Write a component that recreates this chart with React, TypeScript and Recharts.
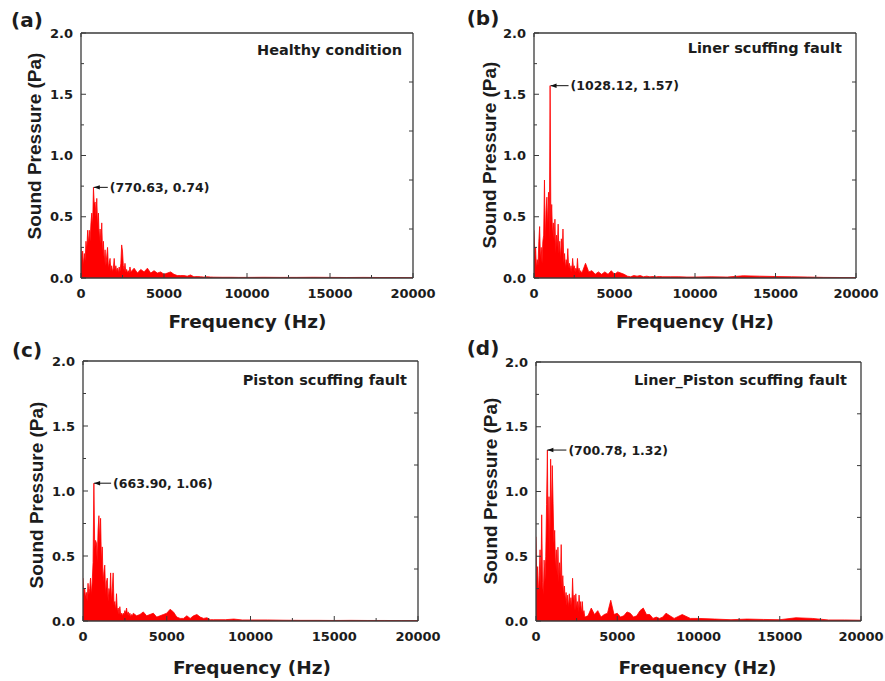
import React from 'react';
import { AreaChart, Area, XAxis, YAxis, ReferenceDot } from 'recharts';

// ---------- data ----------
const FREQ = [
  0, 50, 100, 150, 200, 250, 300, 350, 400, 450, 500, 550, 600, 650, 700, 750, 800, 850, 900, 950,
  1000, 1050, 1100, 1150, 1200, 1250, 1300, 1350, 1400, 1450, 1500, 1550, 1600, 1650, 1700, 1750, 1800, 1850, 1900, 1950,
  2000, 2050, 2100, 2150, 2200, 2250, 2300, 2350, 2400, 2450, 2500, 2550, 2600, 2650, 2700, 2750, 2800, 2850, 2900, 2950, 3000,
  3200, 3400, 3600, 3800, 4000, 4200, 4400, 4600, 4800, 5000, 5200, 5400, 5600, 5800, 6000, 6200, 6400, 6600, 6800, 7000, 7200, 7400, 7600, 7800, 8000,
  8500, 9000, 9500, 10000, 11000, 12000, 13000, 14000, 15000, 16000, 17000, 18000, 19000, 20000,
];

const HEALTHY = [
  0.25, 0.12, 0.22, 0.10, 0.20, 0.14, 0.30, 0.22, 0.39, 0.28, 0.39, 0.30, 0.45, 0.53, 0.42, 0.74, 0.60, 0.62, 0.50, 0.65,
  0.42, 0.53, 0.30, 0.40, 0.28, 0.45, 0.20, 0.30, 0.12, 0.23, 0.10, 0.18, 0.25, 0.08, 0.12, 0.16, 0.06, 0.10, 0.05, 0.08,
  0.16, 0.06, 0.10, 0.05, 0.08, 0.04, 0.09, 0.05, 0.12, 0.27, 0.22, 0.10, 0.06, 0.12, 0.05, 0.07, 0.04, 0.06, 0.04, 0.09, 0.05,
  0.08, 0.04, 0.07, 0.05, 0.08, 0.04, 0.06, 0.04, 0.05, 0.03, 0.04, 0.05, 0.03, 0.02, 0.02, 0.02, 0.015, 0.025, 0.01, 0.012, 0.01, 0.008, 0.01, 0.008, 0.007,
  0.006, 0.006, 0.005, 0.005, 0.006, 0.005, 0.005, 0.006, 0.005, 0.004, 0.005, 0.004, 0.004, 0.003,
];

const LINER = [
  0.39, 0.20, 0.25, 0.08, 0.15, 0.10, 0.30, 0.42, 0.15, 0.25, 0.12, 0.30, 0.35, 0.80, 0.30, 0.55, 0.66, 0.40, 0.70, 0.30,
  1.57, 0.45, 0.60, 0.35, 0.45, 0.30, 0.48, 0.20, 0.35, 0.25, 0.44, 0.20, 0.30, 0.15, 0.32, 0.20, 0.40, 0.12, 0.20, 0.08,
  0.15, 0.10, 0.24, 0.08, 0.12, 0.06, 0.10, 0.05, 0.16, 0.08, 0.10, 0.05, 0.08, 0.06, 0.16, 0.05, 0.08, 0.04, 0.06, 0.04, 0.05,
  0.12, 0.05, 0.06, 0.03, 0.05, 0.03, 0.05, 0.03, 0.06, 0.03, 0.05, 0.04, 0.03, 0.015, 0.01, 0.02, 0.015, 0.02, 0.01, 0.015, 0.01, 0.012, 0.01, 0.012, 0.01,
  0.01, 0.01, 0.008, 0.008, 0.01, 0.008, 0.018, 0.015, 0.012, 0.01, 0.008, 0.005, 0.004, 0.003,
];

const PISTON = [
  0.33, 0.20, 0.25, 0.18, 0.22, 0.15, 0.29, 0.20, 0.25, 0.33, 0.20, 0.30, 0.45, 1.06, 0.55, 0.62, 0.60, 0.45, 0.70, 0.81,
  0.60, 0.79, 0.45, 0.57, 0.30, 0.38, 0.43, 0.20, 0.30, 0.33, 0.15, 0.25, 0.20, 0.37, 0.15, 0.25, 0.37, 0.12, 0.15, 0.08,
  0.21, 0.07, 0.10, 0.05, 0.11, 0.05, 0.06, 0.04, 0.06, 0.05, 0.08, 0.06, 0.10, 0.05, 0.07, 0.04, 0.06, 0.03, 0.05, 0.04, 0.06,
  0.04, 0.05, 0.07, 0.04, 0.05, 0.06, 0.03, 0.04, 0.05, 0.06, 0.09, 0.07, 0.03, 0.02, 0.02, 0.04, 0.02, 0.04, 0.05, 0.03, 0.02, 0.025, 0.01, 0.01, 0.01,
  0.01, 0.015, 0.008, 0.008, 0.008, 0.006, 0.005, 0.005, 0.004, 0.005, 0.004, 0.004, 0.003, 0.003,
];

const LINER_PISTON = [
  0.65, 0.30, 0.42, 0.20, 0.35, 0.55, 0.25, 0.82, 0.30, 0.20, 0.47, 0.30, 0.50, 0.90, 1.32, 0.60, 0.96, 0.50, 1.25, 0.80,
  1.20, 0.91, 0.60, 0.70, 0.40, 0.55, 0.35, 0.57, 0.30, 0.45, 0.30, 0.59, 0.25, 0.35, 0.20, 0.27, 0.15, 0.22, 0.12, 0.20,
  0.10, 0.21, 0.12, 0.18, 0.10, 0.33, 0.15, 0.20, 0.08, 0.21, 0.10, 0.15, 0.07, 0.20, 0.10, 0.15, 0.06, 0.15, 0.05, 0.08, 0.03,
  0.04, 0.10, 0.05, 0.08, 0.03, 0.05, 0.06, 0.16, 0.05, 0.06, 0.03, 0.04, 0.07, 0.06, 0.03, 0.04, 0.08, 0.10, 0.05, 0.05, 0.02, 0.03, 0.02, 0.03, 0.06,
  0.02, 0.05, 0.02, 0.02, 0.015, 0.01, 0.015, 0.012, 0.01, 0.025, 0.02, 0.008, 0.008, 0.006,
];

const PANEL_LABELS = ['(a)', '(b)', '(c)', '(d)'];
const CONDITIONS = ['Healthy condition', 'Liner scuffing fault', 'Piston scuffing fault', 'Liner_Piston scuffing fault'];
const PEAK_FREQ = [770.63, 1028.12, 663.9, 700.78];
const PEAK_VALUE = [0.74, 1.57, 1.06, 1.32];
const SERIES = [HEALTHY, LINER, PISTON, LINER_PISTON];

const X_TICKS = [0, 2500, 5000, 7500, 10000, 12500, 15000, 17500, 20000];
const Y_TICKS = [0, 0.25, 0.5, 0.75, 1.0, 1.25, 1.5, 1.75, 2.0];
const Y_RIGHT_TICKS = [0.4, 0.8, 1.2, 1.6];
const X_TITLE = 'Frequency (Hz)';
const Y_TITLE = 'Sound Pressure (Pa)';

// ---------- layout / style ----------
const W = 885;
const H = 681;
const FONT = '"DejaVu Sans", sans-serif';
const FONT_Y = '"Liberation Sans", Arial, sans-serif';
const TXT = '#1c1c1c';
const RED = '#ff0000';
const FRAME = '#3a3a3a';

type Layout = {
  plot: { l: number; r: number; t: number; b: number };
  label: [number, number];
  yTitle: [number, number];
  xTitle: [number, number];
  cond: [number, number];
  annOff: number;
};

const LAYOUT: Layout[] = [
  { plot: { l: 81, r: 413, t: 33, b: 278 }, label: [27, 20], yTitle: [34, 146], xTitle: [247.5, 322], cond: [402, 50], annOff: 16 },
  { plot: { l: 534, r: 856, t: 33, b: 278 }, label: [483, 18], yTitle: [489, 155], xTitle: [695, 322], cond: [842, 48], annOff: 20 },
  { plot: { l: 83, r: 418, t: 361, b: 621 }, label: [27, 350], yTitle: [36, 495], xTitle: [252, 668], cond: [407, 380], annOff: 19 },
  { plot: { l: 536, r: 861, t: 362, b: 621 }, label: [483, 348], yTitle: [490, 491], xTitle: [697.5, 668], cond: [847, 380], annOff: 21 },
];

// ---------- tick renderers ----------
const BottomTick = (props: any) => {
  const { x, y, payload } = props;
  const v = payload.value;
  const major = v % 5000 === 0;
  return (
    <g>
      <line x1={x} x2={x} y1={y} y2={y - (major ? 5 : 3)} stroke={FRAME} strokeWidth={1} />
      {major && (
        <text x={x} y={y + 20} textAnchor="middle" fontFamily={FONT} fontWeight="bold" fontSize={13} fill={TXT}>
          {v}
        </text>
      )}
    </g>
  );
};

const TopTick = (props: any) => {
  const { x, y } = props;
  return <line x1={x} x2={x} y1={y} y2={y + 4} stroke={FRAME} strokeWidth={1} />;
};

const LeftTick = (props: any) => {
  const { x, y, payload } = props;
  const v = payload.value as number;
  const major = Math.abs(v * 2 - Math.round(v * 2)) < 1e-6;
  return (
    <g>
      <line x1={x} x2={x + (major ? 5 : 3)} y1={y} y2={y} stroke={FRAME} strokeWidth={1} />
      {major && (
        <text x={x - 8} y={y + 4.7} textAnchor="end" fontFamily={FONT} fontWeight="bold" fontSize={13} fill={TXT}>
          {v.toFixed(1)}
        </text>
      )}
    </g>
  );
};

const RightTick = (props: any) => {
  const { x, y } = props;
  return <line x1={x} x2={x - 4} y1={y} y2={y} stroke={FRAME} strokeWidth={1} />;
};

const makeAnnot = (text: string, off: number) => (props: any) => {
  const { cx, cy } = props;
  if (cx == null || cy == null) return <g />;
  return (
    <g>
      <line x1={cx} y1={cy} x2={cx + off - 2} y2={cy} stroke="#111" strokeWidth={1} />
      <polygon points={`${cx},${cy} ${cx + 6},${cy - 2.2} ${cx + 6},${cy + 2.2}`} fill="#111" />
      <text x={cx + off} y={cy} dy="0.36em" fontFamily={FONT} fontWeight="bold" fontSize={12.5} fill={TXT}>
        {text}
      </text>
    </g>
  );
};

const Txt = (p: {
  x: number; y: number; size: number; children: React.ReactNode; rotate?: number;
  anchor?: 'middle' | 'end'; family?: string; spacing?: number;
}) => (
  <div
    style={{
      position: 'absolute',
      left: p.x,
      top: p.y,
      transform: `translate(${p.anchor === 'end' ? '-100%' : '-50%'}, -50%) rotate(${p.rotate || 0}deg)`,
      fontFamily: p.family || FONT,
      fontWeight: 'bold',
      fontSize: p.size,
      lineHeight: 1,
      whiteSpace: 'nowrap',
      color: TXT,
      letterSpacing: p.spacing || 0,
    }}
  >
    {p.children}
  </div>
);

const Panel = ({ idx }: { idx: number }) => {
  const L = LAYOUT[idx];
  const values = SERIES[idx];
  const data = FREQ.map((f, i) => ({ f, v: values[i] }));
  const pf = PEAK_FREQ[idx];
  const pv = PEAK_VALUE[idx];
  const annText = `(${pf.toFixed(2)}, ${pv.toFixed(2)})`;
  const axisLine = { stroke: FRAME, strokeWidth: 1.3 };
  return (
    <div style={{ position: 'absolute', left: 0, top: 0, width: W, height: H }}>
      <AreaChart
        width={W}
        height={H}
        data={data}
        margin={{ top: L.plot.t - 1, left: L.plot.l - 1, right: W - L.plot.r - 1, bottom: H - L.plot.b - 1 }}
      >
        <XAxis
          dataKey="f"
          type="number"
          domain={[0, 20000]}
          ticks={X_TICKS}
          interval={0}
          tick={<BottomTick />}
          tickLine={false}
          tickSize={0}
          tickMargin={0}
          height={1}
          axisLine={axisLine}
          allowDataOverflow
        />
        <XAxis
          xAxisId="top"
          orientation="top"
          type="number"
          domain={[0, 20000]}
          ticks={X_TICKS}
          interval={0}
          tick={<TopTick />}
          tickLine={false}
          tickSize={0}
          tickMargin={0}
          height={1}
          axisLine={axisLine}
          allowDataOverflow
        />
        <YAxis
          type="number"
          domain={[0, 2]}
          ticks={Y_TICKS}
          interval={0}
          tick={<LeftTick />}
          tickLine={false}
          tickSize={0}
          tickMargin={0}
          width={1}
          axisLine={axisLine}
          allowDataOverflow
        />
        <YAxis
          yAxisId="right"
          orientation="right"
          type="number"
          domain={[0, 2]}
          ticks={Y_RIGHT_TICKS}
          interval={0}
          tick={<RightTick />}
          tickLine={false}
          tickSize={0}
          tickMargin={0}
          width={1}
          axisLine={axisLine}
          allowDataOverflow
        />
        <Area
          type="linear"
          dataKey="v"
          stroke={RED}
          strokeWidth={0.8}
          fill={RED}
          fillOpacity={1}
          dot={false}
          activeDot={false}
          isAnimationActive={false}
        />
        <ReferenceDot x={pf} y={pv} r={0} shape={makeAnnot(annText, L.annOff)} />
      </AreaChart>
      <Txt x={L.label[0]} y={L.label[1]} size={20}>{PANEL_LABELS[idx]}</Txt>
      <Txt x={L.yTitle[0]} y={L.yTitle[1]} size={19} rotate={-90} family={FONT_Y}>{Y_TITLE}</Txt>
      <Txt x={L.xTitle[0]} y={L.xTitle[1]} size={18.5}>{X_TITLE}</Txt>
      <Txt x={L.cond[0]} y={L.cond[1]} size={14.5} anchor="end">{CONDITIONS[idx]}</Txt>
    </div>
  );
};

export default function App() {
  return (
    <div style={{ position: 'absolute', left: 0, top: 0, width: W, height: H, background: '#fff', overflow: 'hidden' }}>
      {[0, 1, 2, 3].map((i) => (
        <Panel key={i} idx={i} />
      ))}
    </div>
  );
}
